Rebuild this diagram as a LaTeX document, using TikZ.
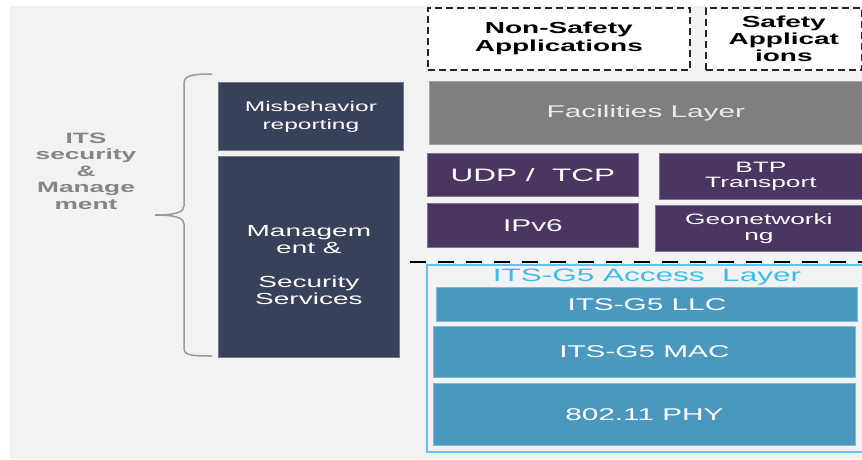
\documentclass[tikz,border=0pt]{standalone}
\usepackage{fontspec}
\setmainfont{Liberation Sans}[FakeStretch=1.75]
\newcommand\fsz[2]{\fontsize{#1}{#2}\selectfont}
\definecolor{bgcol}{HTML}{F2F2F2}
\definecolor{navy}{HTML}{37425A}
\definecolor{purp}{HTML}{4B3662}
\definecolor{facgray}{HTML}{7F7F7F}
\definecolor{gfive}{HTML}{4A98BD}
\definecolor{acc}{HTML}{5CC6F0}
\definecolor{acctext}{HTML}{3CBCEC}
\definecolor{bracegray}{HTML}{9A9A9A}
\definecolor{itsgray}{HTML}{858585}
\begin{document}
\begin{tikzpicture}[x=1pt, y=-1pt,
    lay/.style={anchor=north west, inner sep=0pt, align=center, text=white, fill=#1, draw=#1!70!white, line width=.8pt},
    app/.style={anchor=north west, inner sep=0pt, align=center, fill=white, draw=black!85, dash pattern=on 7pt off 4pt, line width=1.6pt}]
    \fill[bgcol] (10,6) rectangle (862,459);
    \useasboundingbox (0,0) rectangle (862,459);
    % applications
    \node[app, minimum width=262pt, minimum height=62pt, font=\bfseries\fsz{16}{18}] (nsa) at (427,7) {Non-Safety\\Applications};
    \node[app, minimum width=156pt, minimum height=62pt, font=\bfseries\fsz{16}{17}] (sa) at (705,7) {Safety\\Applicat\\ions};
    % facilities and networking
    \node[lay=facgray, text=black!8, minimum width=433pt, minimum height=63pt, font=\fsz{17}{19}] (fac) at (429,81) {Facilities Layer};
    \node[lay=purp, minimum width=211pt, minimum height=43pt, font=\fsz{18}{20}] (udp) at (427,153) {UDP /\ \ TCP};
    \node[lay=purp, minimum width=203pt, minimum height=46pt, font=\fsz{15}{15}] (btp) at (659,153) {BTP\\Transport};
    \node[lay=purp, minimum width=211pt, minimum height=44pt, font=\fsz{17}{19}] (ipv) at (427,203) {IPv6};
    \node[lay=purp, minimum width=207pt, minimum height=46pt, font=\fsz{15}{16}] (geo) at (655,205) {Geonetworki\\ng};
    % management side
    \node[lay=navy, minimum width=185pt, minimum height=68pt, font=\fsz{14}{18}] (misb) at (218,82) {Misbehavior\\reporting};
    \node[lay=navy, minimum width=181pt, minimum height=201pt] (mgmt) at (218,156) {};
    \node[font=\fsz{16}{17}, text=white, align=center] (mgmttxt) at ([yshift=-8pt]mgmt.center) {Managem\\ent \&\\[17pt]Security\\Services};
    \draw[bracegray, line width=1.5pt] (212,74) .. controls (190,74) and (184,76) .. (184,84) -- (184,206)
        .. controls (184,212) and (176,215) .. (155,215) .. controls (176,215) and (184,218) .. (184,224)
        -- (184,348) .. controls (184,355) and (190,356) .. (212,356);
    \node[text=itsgray, font=\bfseries\fsz{15}{16.5}, align=center] (its) at (86,171) {ITS\\security\\\&\\Manage\\ment};
    % access layer
    \draw[black, line width=1.8pt, dash pattern=on 16pt off 12pt] (410,262) -- (862,262);
    \draw[acc, line width=2pt] (862,265) -| (427,452) -- (862,452);
    \node[text=acctext, font=\fsz{18}{20}] (acct) at (647,277) {ITS-G5 Access\ \ Layer};
    \node[lay=gfive, minimum width=421pt, minimum height=34pt, font=\fsz{17}{19}] (llc) at (436,287) {ITS-G5 LLC};
    \node[lay=gfive, minimum width=422pt, minimum height=51pt, font=\fsz{17}{19}] (mac) at (433,326) {ITS-G5 MAC};
    \node[lay=gfive, minimum width=422pt, minimum height=62pt, font=\fsz{17}{19}] (phy) at (433,383) {802.11 PHY};
\end{tikzpicture}
\end{document}
